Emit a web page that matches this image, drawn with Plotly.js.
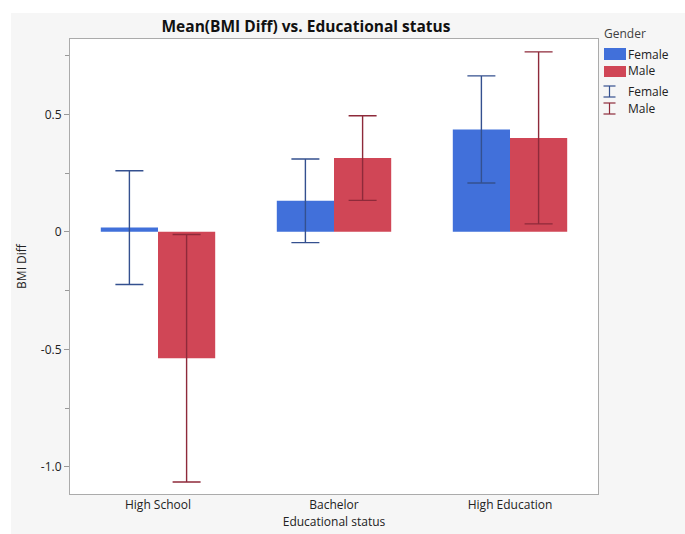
<!DOCTYPE html>
<html>
<head>
<meta charset="utf-8">
<script src="https://cdn.plot.ly/plotly-3.0.1.min.js"></script>
<style>
  html, body { margin: 0; padding: 0; background: #ffffff; }
  #chart { position: absolute; left: 11px; top: 13px; width: 674px; height: 521px; }
</style>
</head>
<body>
<div id="chart"></div>
<script>
// Mean BMI difference by educational status, split by gender
const categories = ["High School", "Bachelor", "High Education"];
const femaleMean = [0.018, 0.132, 0.436];
const femaleErr  = [0.242, 0.178, 0.228];
const maleMean   = [-0.538, 0.314, 0.400];
const maleErr    = [0.527, 0.180, 0.366];
const yTickVals  = [-1.0, -0.5, 0, 0.5];
const yTickText  = ["-1.0", "-0.5", "0", "0.5"];

const FONT = "Open Sans, Noto Sans, sans-serif";
const BLUE = "#4170da";
const RED = "#d04656";
const BLUE_ERR = "#34508f";
const RED_ERR = "#8e2a3a";

// figure geometry (px inside the div)
const W = 674, H = 521;
const M = { l: 59, r: 87, t: 26, b: 40 };
const PW = W - M.l - M.r, PH = H - M.t - M.b;
// convert page pixel position to paper coordinates
const px = x => (x - 11 - M.l) / PW;
const py = y => 1 - (y - 13 - M.t) / PH;

const traces = [
  {
    type: "bar", name: "Female", x: categories, y: femaleMean,
    marker: { color: BLUE },
    error_y: { type: "data", array: femaleErr, visible: true, color: BLUE_ERR, thickness: 1.4, width: 14 },
    hoverinfo: "skip"
  },
  {
    type: "bar", name: "Male", x: categories, y: maleMean,
    marker: { color: RED },
    error_y: { type: "data", array: maleErr, visible: true, color: RED_ERR, thickness: 1.4, width: 14 },
    hoverinfo: "skip"
  }
];

// legend drawn by hand: colour swatches and error-bar glyphs
const shapes = [];
const annotations = [];
function swatch(y0, y1, color) {
  shapes.push({ type: "rect", xref: "paper", yref: "paper",
    x0: px(604), x1: px(626), y0: py(y1), y1: py(y0),
    fillcolor: color, line: { width: 0 } });
}
function errGlyph(y0, y1, color) {
  const xc = 609.5, hw = 6;
  const seg = (x0, ya, x1, yb) => shapes.push({ type: "line", xref: "paper", yref: "paper",
    x0: px(x0), x1: px(x1), y0: py(ya), y1: py(yb), line: { color: color, width: 1.2 } });
  seg(xc, y0, xc, y1);
  seg(xc - hw, y0, xc + hw, y0);
  seg(xc - hw, y1, xc + hw, y1);
}
function label(text, x, y, size, color) {
  annotations.push({ text: text, xref: "paper", yref: "paper", x: px(x), y: py(y),
    xanchor: "left", yanchor: "middle", showarrow: false,
    font: { family: FONT, size: size, color: color } });
}
label("Gender", 602, 33, 12, "#404040");
swatch(48, 60, BLUE);
label("Female", 626, 54, 12, "#222222");
swatch(66, 77, RED);
label("Male", 626, 71, 12, "#222222");
errGlyph(86, 97, BLUE_ERR);
label("Female", 626, 91, 12, "#222222");
errGlyph(103, 114, RED_ERR);
label("Male", 626, 108, 12, "#222222");

const layout = {
  width: W, height: H,
  margin: M,
  paper_bgcolor: "#f6f6f6",
  plot_bgcolor: "#ffffff",
  showlegend: false,
  barmode: "group",
  bargap: 0.35,
  bargroupgap: 0,
  font: { family: FONT, size: 12, color: "#333333" },
  title: {
    text: "<b>Mean(BMI Diff) vs. Educational status</b>",
    font: { family: FONT, size: 15.5, color: "#111111" },
    x: (306 - 11) / W, xanchor: "center",
    y: 1 - (27 - 13) / H, yanchor: "middle"
  },
  xaxis: {
    type: "category",
    showline: true, mirror: true, linecolor: "#ababab", linewidth: 1,
    ticks: "", showgrid: false, zeroline: false,
    tickfont: { family: FONT, size: 12, color: "#222222" },
    title: { text: "Educational status", font: { family: FONT, size: 12, color: "#222222" }, standoff: 2 }
  },
  yaxis: {
    range: [-1.116, 0.821],
    showline: true, mirror: true, linecolor: "#ababab", linewidth: 1,
    showgrid: false, zeroline: false,
    tickvals: yTickVals, ticktext: yTickText,
    ticks: "outside", ticklen: 5, tickcolor: "#999999",
    minor: { tickvals: [-0.75, -0.25, 0.25, 0.75], ticks: "outside", ticklen: 4, tickcolor: "#999999", showgrid: false },
    tickfont: { family: FONT, size: 12, color: "#222222" },
    title: { text: "BMI Diff", font: { family: FONT, size: 12, color: "#222222" }, standoff: 11 }
  },
  shapes: shapes,
  annotations: annotations
};

Plotly.newPlot("chart", traces, layout, { staticPlot: true, displayModeBar: false });
</script>
</body>
</html>
